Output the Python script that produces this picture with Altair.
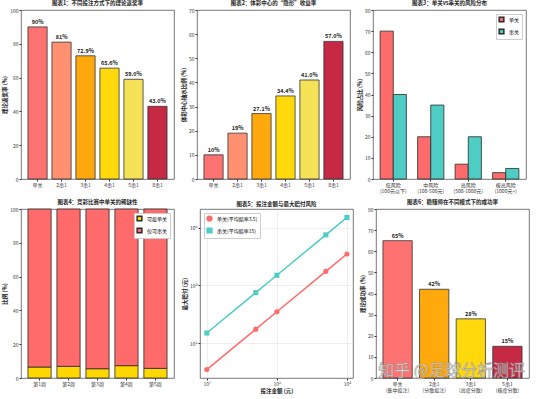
import altair as alt
import pandas as pd

FONT = "Noto Sans CJK SC"
W, H = 153, 169

# Figure 1 / 2: bet types
bet_types = ["单关", "2串1", "3串1", "4串1", "5串1", "8串1"]
payout_rate = [90, 81, 72.9, 65.6, 59.0, 43.0]
payout_labels = ["90%", "81%", "72.9%", "65.6%", "59.0%", "43.0%"]
center_take = [10, 19, 27.1, 34.4, 41.0, 57.0]
take_labels = ["10%", "19%", "27.1%", "34.4%", "41.0%", "57.0%"]
bet_colors = ["#FF6B6B", "#FF8C69", "#FFA500", "#FFD700", "#F4E04D", "#C41E3A"]

# Figure 3: risk distribution
risk_levels = ["低风险\n(100元以下)", "中风险\n(100-500元)", "高风险\n(500-1000元)", "极高风险\n(1000元+)"]
single_share = [70, 20, 7, 3]
parlay_share = [40, 35, 20, 5]

# Figure 4: weekly share of single-bet matches
weeks = ["第1周", "第2周", "第3周", "第4周", "第5周"]
single_available = [6.5, 6.9, 5.5, 7.3, 5.7]
parlay_only = [93.5, 93.1, 94.5, 92.7, 94.3]

# Figure 5: stake vs maximum payout
stake = [10, 50, 100, 500, 1000]
single_payout = [35, 175, 350, 1750, 3500]
parlay_payout = [150, 750, 1500, 7500, 15000]

# Figure 6: success rate by mode
modes = ["单关\n(集中投注)", "2串1\n(分散投注)", "3串1\n(高度分散)", "5串1\n(极度分散)"]
success_rate = [65, 42, 28, 15]
success_labels = ["65%", "42%", "28%", "15%"]
mode_colors = ["#FF6B6B", "#FFA500", "#FFD700", "#C41E3A"]

EDGE = dict(stroke="#2a2a2a", strokeWidth=0.8)
MULTILINE = "split(datum.label, '\\n')"
POWERS = ("datum.value == 10 ? '10¹' : datum.value == 100 ? '10²' : "
          "datum.value == 1000 ? '10³' : '10⁴'")


def y_axis(title, top, step):
    return alt.Axis(title=title, values=list(range(0, top + 1, step)))


def bar_panel(cats, vals, labels, colors, title, ytitle, top, step, pad_outer):
    df = pd.DataFrame({"cat": cats, "val": vals, "label": labels, "color": colors})
    x = alt.X("cat:N", sort=cats, title=None,
              scale=alt.Scale(paddingInner=0.2, paddingOuter=pad_outer),
              axis=alt.Axis(labelAngle=0, labelExpr=MULTILINE, labelLineHeight=6))
    y = alt.Y("val:Q", scale=alt.Scale(domain=[0, top], nice=False), axis=y_axis(ytitle, top, step))
    bars = alt.Chart(df).mark_bar(opacity=0.95, **EDGE).encode(
        x=x, y=y, fill=alt.Fill("color:N", scale=None, legend=None))
    text = alt.Chart(df).mark_text(dy=-5, fontWeight="bold", fontSize=5.5, color="#222").encode(
        x=x, y=y, text="label:N")
    return (bars + text).properties(width=W, height=H, title=title)


def box_legend(orient):
    return alt.Legend(title=None, orient=orient, fillColor="white", strokeColor="#ccc",
                      padding=2, offset=4, symbolSize=22, rowPadding=1)


p1 = bar_panel(bet_types, payout_rate, payout_labels, bet_colors,
               "图表1：不同投注方式下的理论返奖率", "理论返奖率 (%)", 100, 20, 0.29)
p2 = bar_panel(bet_types, center_take, take_labels, bet_colors,
               "图表2：体彩中心的“隐形”收益率", "体彩中心抽水比例 (%)", 70, 10, 0.29)

# Figure 3: grouped bars
risk_df = pd.DataFrame({
    "level": risk_levels * 2,
    "type": ["单关"] * 4 + ["串关"] * 4,
    "share": single_share + parlay_share,
})
p3 = alt.Chart(risk_df).mark_bar(**EDGE).encode(
    x=alt.X("level:N", sort=risk_levels, title=None,
            scale=alt.Scale(paddingInner=0.3, paddingOuter=0.19),
            axis=alt.Axis(labelAngle=0, labelExpr=MULTILINE, labelLineHeight=6)),
    xOffset=alt.XOffset("type:N", sort=["单关", "串关"], scale=alt.Scale(paddingInner=0, paddingOuter=0)),
    y=alt.Y("share:Q", scale=alt.Scale(domain=[0, 80], nice=False), axis=y_axis("风险占比 (%)", 80, 10)),
    fill=alt.Fill("type:N", sort=["单关", "串关"],
                  scale=alt.Scale(domain=["单关", "串关"], range=["#FF6B6B", "#4ECDC4"]),
                  legend=box_legend("top-right")),
).properties(width=W, height=H, title="图表3：单关vs串关的风险分布")

# Figure 4: stacked bars
kinds = ["可投单关", "仅可串关"]
week_df = pd.DataFrame({
    "week": weeks * 2,
    "kind": [kinds[0]] * 5 + [kinds[1]] * 5,
    "order": [0] * 5 + [1] * 5,
    "pct": single_available + parlay_only,
})
p4 = alt.Chart(week_df).mark_bar(**EDGE).encode(
    x=alt.X("week:N", sort=weeks, title=None,
            scale=alt.Scale(paddingInner=0.2, paddingOuter=0.24),
            axis=alt.Axis(labelAngle=0)),
    y=alt.Y("pct:Q", stack="zero", scale=alt.Scale(domain=[0, 100], nice=False),
            axis=y_axis("比例 (%)", 100, 20)),
    order=alt.Order("order:Q"),
    fill=alt.Fill("kind:N", sort=kinds,
                  scale=alt.Scale(domain=kinds, range=["#FFD700", "#FF6B6B"]),
                  legend=box_legend("top-right")),
).properties(width=W, height=H, title="图表4：竞彩比赛中单关的稀缺性")

# Figure 5: log-log lines
series_names = ["单关(平均赔率3.5)", "串关(平均赔率15)"]
pay_df = pd.DataFrame({
    "stake": stake * 2,
    "payout": single_payout + parlay_payout,
    "series": [series_names[0]] * 5 + [series_names[1]] * 5,
})
x5 = alt.X("stake:Q", scale=alt.Scale(type="log", domain=[8, 1220], nice=False),
           axis=alt.Axis(title="投注金额 (元)", values=[10, 100, 1000], labelExpr=POWERS,
                         grid=True, gridColor="#ddd", gridWidth=0.5))
y5 = alt.Y("payout:Q", scale=alt.Scale(type="log", domain=[25, 21000], nice=False),
           axis=alt.Axis(title="最大赔付 (元)", values=[100, 1000, 10000], labelExpr=POWERS,
                         grid=True, gridColor="#ddd", gridWidth=0.5))
c5 = alt.Color("series:N", sort=series_names,
               scale=alt.Scale(domain=series_names, range=["#FF6B6B", "#4ECDC4"]),
               legend=box_legend("top-left"))
s5 = alt.Shape("series:N", sort=series_names,
               scale=alt.Scale(domain=series_names, range=["circle", "square"]),
               legend=box_legend("top-left"))
lines5 = alt.Chart(pay_df).mark_line(strokeWidth=1.5).encode(x=x5, y=y5, color=c5)
points5 = alt.Chart(pay_df).mark_point(filled=True, size=26, opacity=1).encode(
    x=x5, y=y5, color=c5, shape=s5)
p5 = (lines5 + points5).properties(width=W, height=H, title="图表5：投注金额与最大赔付风险")

p6 = bar_panel(modes, success_rate, success_labels, mode_colors,
               "图表6：稳赚师在不同模式下的成功率", "理论成功率 (%)", 80, 10, 0.19)

mark_df = pd.DataFrame({"t": ["知乎 @足球分析测评"]})
watermark = alt.Chart(mark_df).mark_text(
    fontSize=16, font=FONT, color="white", stroke="#8a8a8a", strokeWidth=0.6,
    opacity=0.85, align="right", baseline="bottom",
).encode(text="t:N", x=alt.value(W - 4), y=alt.value(H + 1))
p6 = alt.layer(p6, watermark)

independent = dict(fill="independent", color="independent", shape="independent")
chart = alt.vconcat(
    alt.hconcat(p1, p2, p3, spacing=6).resolve_scale(**independent),
    alt.hconcat(p4, p5, p6, spacing=6).resolve_scale(**independent),
    spacing=5,
).resolve_scale(**independent).properties(
    padding={"left": 2, "top": 0, "right": 2, "bottom": 1},
    background="white",
).configure_view(
    stroke="#555", strokeWidth=0.8,
).configure_axis(
    labelFont=FONT, titleFont=FONT, labelFontSize=5, titleFontSize=5.5,
    labelColor="#333", titleColor="#222", titleFontWeight="bold",
    tickSize=2, tickColor="#333", labelPadding=1, titlePadding=2,
    domain=False, grid=False,
).configure_title(
    font=FONT, fontSize=5.5, fontWeight="bold", color="#222", offset=2, anchor="middle",
).configure_legend(
    labelFont=FONT, labelFontSize=5, labelLimit=120,
).configure_text(font=FONT)

chart.save("out.html", embed_options={"renderer": "svg", "actions": False})
